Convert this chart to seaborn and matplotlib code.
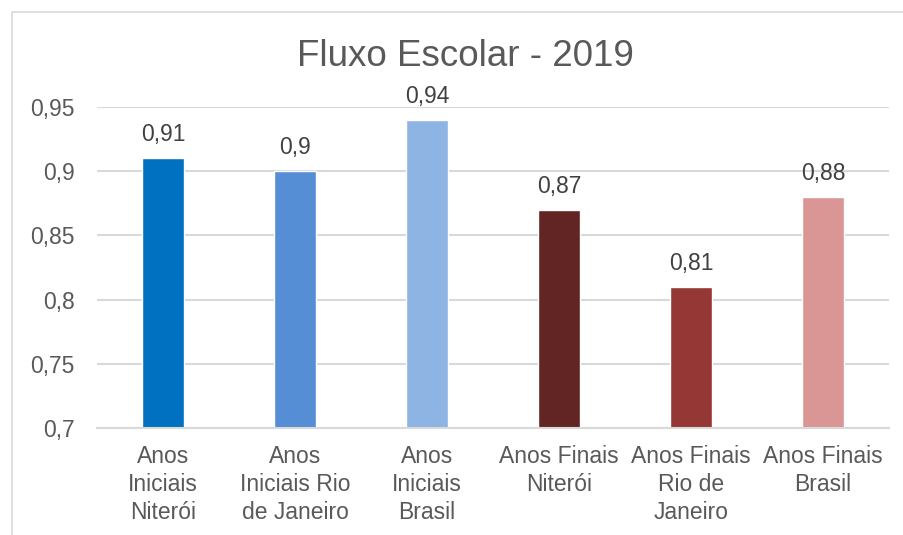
import matplotlib
matplotlib.use("Agg")
import matplotlib.pyplot as plt
import seaborn as sns
import pandas as pd
from matplotlib.patches import Rectangle

categories = [
    "Anos\nIniciais\nNiterói",
    "Anos\nIniciais Rio\nde Janeiro",
    "Anos\nIniciais\nBrasil",
    "Anos Finais\nNiterói",
    "Anos Finais\nRio de\nJaneiro",
    "Anos Finais\nBrasil",
]
values = [0.91, 0.90, 0.94, 0.87, 0.81, 0.88]
value_labels = ["0,91", "0,9", "0,94", "0,87", "0,81", "0,88"]
colors = ["#0070C0", "#558ED5", "#8EB4E3", "#632523", "#953735", "#D99694"]
yticks = [0.7, 0.75, 0.8, 0.85, 0.9, 0.95]
ytick_labels = ["0,7", "0,75", "0,8", "0,85", "0,9", "0,95"]
title = "Fluxo Escolar - 2019"

sns.set_style("white")
plt.rcParams["font.family"] = ["Liberation Sans", "DejaVu Sans"]
text_color = "#595959"

df = pd.DataFrame({"cat": categories, "val": values})

fig = plt.figure(figsize=(9.04, 5.35), dpi=100)
ax = fig.add_axes([97 / 904, 0.2, (889 - 97) / 904, 0.6])

sns.barplot(data=df, x="cat", y="val", hue="cat", palette=colors,
            width=0.32, legend=False, ax=ax, saturation=1)

ax.set_ylim(0.7, 0.95)
ax.set_yticks(yticks)
ax.set_yticklabels(ytick_labels)
ax.set_xlabel("")
ax.set_ylabel("")
ax.grid(axis="y", color="#D9D9D9", linewidth=1.5)
ax.set_axisbelow(True)
for s in ["top", "right", "left"]:
    ax.spines[s].set_visible(False)
ax.spines["bottom"].set_color("#D9D9D9")
ax.spines["bottom"].set_linewidth(1.5)
ax.tick_params(axis="y", length=0, pad=16, labelsize=16.5, labelcolor=text_color)
ax.tick_params(axis="x", length=0, pad=12, labelsize=16.5, labelcolor=text_color)
for lab in ax.get_xticklabels():
    lab.set_linespacing(1.3)

for i, (v, t) in enumerate(zip(values, value_labels)):
    ax.annotate(t, (i, v), xytext=(0, 17), textcoords="offset points",
                ha="center", va="center", fontsize=16.5, color="#404040")

fig.text(465 / 904, 1 - 57 / 535, title, ha="center", va="center",
         fontsize=26.5, color=text_color)

fig.patches.append(Rectangle((12 / 904, -0.1), 1.2, 1 - 12 / 535 + 0.1,
                             transform=fig.transFigure, fill=False,
                             edgecolor="#D9D9D9", linewidth=1.2))

fig.savefig("out.png", dpi=100)
